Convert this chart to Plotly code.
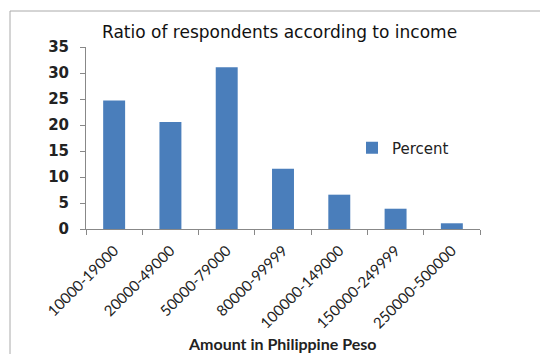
import plotly.graph_objects as go

categories = ["10000-19000", "20000-49000", "50000-79000", "80000-99999",
              "100000-149000", "150000-249999", "250000-500000"]
percent = [24.7, 20.6, 31.1, 11.6, 6.6, 3.9, 1.1]
y_ticks = [0, 5, 10, 15, 20, 25, 30, 35]

W, H = 540, 354
L, R, T, B = 86, 60, 47, 125
pw, ph = W - L - R, H - T - B

def px(x):
    return (x - L) / pw

def py(y):
    return (H - B - y) / ph

fig = go.Figure()
fig.add_trace(go.Bar(x=categories, y=percent, name="Percent",
                     marker=dict(color="#4A7EBB", line=dict(width=0))))

fig.update_layout(
    width=W, height=H,
    margin=dict(l=L, r=R, t=T, b=B),
    paper_bgcolor="white", plot_bgcolor="white",
    bargap=0.61,
    showlegend=True,
    legend=dict(x=px(352), y=py(148), xanchor="left", yanchor="middle",
                font=dict(family="DejaVu Sans", size=15, color="#222"),
                bgcolor="rgba(0,0,0,0)", itemwidth=30),
    font=dict(family="Lato", color="#222"),
    xaxis=dict(type="category", showline=True, linecolor="#888", linewidth=1,
               ticks="outside", tickson="boundaries", ticklen=5, tickcolor="#888",
               tickangle=-45, tickfont=dict(family="Lato", size=15, color="#222"),
               ticklabelstandoff=6, showgrid=False),
    yaxis=dict(range=[0, 35], tickvals=y_ticks, showline=True, linecolor="#888",
               linewidth=1, ticks="outside", ticklen=5, tickcolor="#888",
               tickfont=dict(family="DejaVu Sans", size=15, color="#222", weight="bold"),
               ticklabelstandoff=8, showgrid=False, zeroline=False),
)

fig.add_annotation(text="Ratio of respondents according to income",
                   x=px(279), y=py(32), xref="paper", yref="paper",
                   showarrow=False, xanchor="center", yanchor="middle",
                   font=dict(family="DejaVu Sans", size=17, color="#111"))
fig.add_annotation(text="<b>Amount in Philippine Peso</b>",
                   x=px(282), y=py(343), xref="paper", yref="paper",
                   showarrow=False, xanchor="center", yanchor="middle",
                   font=dict(family="Lato", size=16, color="#222"))

fig.add_shape(type="rect", xref="paper", yref="paper",
              x0=px(10), x1=px(546), y0=py(356), y1=py(11),
              line=dict(color="#aaa", width=1), fillcolor="rgba(0,0,0,0)")

fig.write_html("out.html")
